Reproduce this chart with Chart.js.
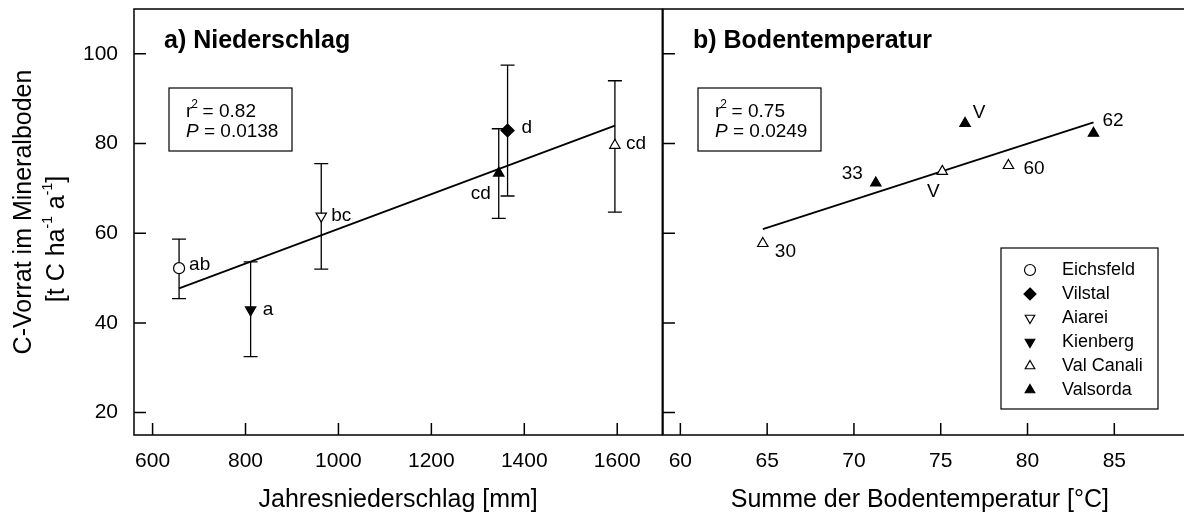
<!DOCTYPE html>
<html>
<head>
<meta charset="utf-8">
<script src="https://cdn.jsdelivr.net/npm/chart.js@4/dist/chart.umd.min.js"></script>
<style>
html, body { margin: 0; padding: 0; background: #fff; }
#wrap { position: relative; width: 1184px; height: 520px; overflow: hidden; }
canvas { position: absolute; top: 0; }
#left { left: 0; }
#right { left: 600px; }
</style>
</head>
<body>
<div id="wrap">
  <canvas id="left" width="670" height="520"></canvas>
  <canvas id="right" width="584" height="520"></canvas>
</div>
<script>
// sites in legend order
var siteNames = ['Eichsfeld', 'Vilstal', 'Aiarei', 'Kienberg', 'Val Canali', 'Valsorda'];

// a) Niederschlag: one point per site (same order as siteNames)
var precip = [657, 1364, 963, 811, 1595, 1345];
var stockA = [52.2, 82.9, 63.8, 42.9, 79.6, 73.4];
var errHiA = [58.7, 97.5, 75.5, 53.6, 94.0, 83.3];
var errLoA = [45.4, 68.3, 52.0, 32.5, 64.7, 63.3];
var lettersA = ['ab', 'd', 'bc', 'a', 'cd', 'cd'];
var fitXA = [657, 1595];
var fitYA = [47.7, 84.0];

// b) Bodentemperatur: plots of Val Canali (4) and Valsorda (5)
var siteB = [4, 5, 4, 5, 4, 5];
var tempSum = [64.75, 71.26, 75.09, 76.4, 78.9, 83.8];
var stockB = [57.7, 71.2, 73.8, 84.5, 75.1, 82.3];
var labelsB = ['30', '33', 'V', 'V', '60', '62'];
var fitXB = [64.75, 83.8];
var fitYB = [60.9, 84.7];

var yTicks = [20, 40, 60, 80, 100];
var xTicksA = [600, 800, 1000, 1200, 1400, 1600];
var xTicksB = [60, 65, 70, 75, 80, 85];

// styles
var FONT = '"Liberation Sans", Arial, Helvetica, sans-serif';
var mStyle = ['circle', 'rectRot', 'triangle', 'triangle', 'triangle', 'triangle'];
var mRot = [0, 0, 180, 180, 0, 0];
var mFill = ['#fff', '#000', '#fff', '#000', '#fff', '#000'];
var mRad = [5.5, 6.5, 6, 6, 6, 6];
// label offsets [dx, dy, align]
var labPosA = [[10, -3, 'left'], [14, -3, 'left'], [10, 0, 'left'], [12, 0, 'left'], [11, -2, 'left'], [-8, 21, 'right']];
var labPosB = [[12, 8, 'left'], [-13, -9, 'right'], [-9, 20, 'center'], [14, -11, 'center'], [15, 3, 'left'], [9, -12, 'left']];

function pts(xs, ys) {
    return xs.map(function (x, i) { return { x: x, y: ys[i] }; });
}

var markerDataset = function (xs, ys, idx) {
    return {
        type: 'scatter',
        data: pts(xs, ys),
        pointStyle: idx.map(function (k) { return mStyle[k]; }),
        rotation: idx.map(function (k) { return mRot[k]; }),
        pointRotation: idx.map(function (k) { return mRot[k]; }),
        pointRadius: idx.map(function (k) { return mRad[k]; }),
        pointBackgroundColor: idx.map(function (k) { return mFill[k]; }),
        pointBorderColor: '#000',
        pointBorderWidth: 1.2,
        order: 0
    };
};

var fitDataset = function (xs, ys) {
    return {
        type: 'line',
        data: pts(xs, ys),
        borderColor: '#000',
        borderWidth: 1.8,
        pointRadius: 0,
        fill: false,
        order: 1
    };
};

// scales: no auto padding, fixed box sizes so the plot areas line up
var noPad = function (s) { s.paddingTop = 0; s.paddingBottom = 0; s.paddingLeft = 0; s.paddingRight = 0; };

var xScale = function (min, max, ticks, title) {
    return {
        type: 'linear', min: min, max: max,
        afterBuildTicks: function (s) { s.ticks = ticks.map(function (v) { return { value: v }; }); },
        grid: { display: false, drawTicks: false },
        border: { display: false },
        ticks: { autoSkip: false, maxRotation: 0, color: '#000', padding: 14,
                 font: { family: FONT, size: 21 }, callback: function (v) { return String(v); } },
        title: { display: true, text: title, color: '#000', font: { family: FONT, size: 25 },
                 padding: { top: 0, bottom: 5 } },
        afterFit: function (s) { s.height = 85; noPad(s); }
    };
};

var yScale = function (showLabels, width) {
    return {
        type: 'linear', min: 15, max: 110,
        afterBuildTicks: function (s) { s.ticks = yTicks.map(function (v) { return { value: v }; }); },
        grid: { display: false, drawTicks: false },
        border: { display: false },
        ticks: { display: showLabels, color: '#000', padding: 16,
                 font: { family: FONT, size: 21 }, callback: function (v) { return String(v); } },
        afterFit: function (s) { s.width = width; noPad(s); }
    };
};

function drawMarker(ctx, k, x, y, r) {
    ctx.save();
    ctx.beginPath();
    if (mStyle[k] === 'circle') {
        ctx.arc(x, y, r, 0, Math.PI * 2);
    } else if (mStyle[k] === 'rectRot') {
        ctx.moveTo(x, y - r); ctx.lineTo(x + r, y); ctx.lineTo(x, y + r); ctx.lineTo(x - r, y);
    } else {
        var s = mRot[k] === 180 ? -1 : 1;
        ctx.moveTo(x, y - s * r);
        ctx.lineTo(x + r * 0.866, y + s * r / 2);
        ctx.lineTo(x - r * 0.866, y + s * r / 2);
    }
    ctx.closePath();
    ctx.fillStyle = mFill[k];
    ctx.fill();
    ctx.lineWidth = 1.2;
    ctx.strokeStyle = '#000';
    ctx.stroke();
    ctx.restore();
}

function drawFrame(chart, withRight) {
    var a = chart.chartArea, ctx = chart.ctx;
    var sx = chart.scales.x, sy = chart.scales.y;
    ctx.save();
    ctx.strokeStyle = '#000';
    ctx.lineWidth = 1.5;
    ctx.beginPath();
    if (withRight) {
        ctx.rect(a.left, a.top, a.right - a.left, a.bottom - a.top);
    } else {
        ctx.moveTo(chart.width, a.top); ctx.lineTo(a.left, a.top);
        ctx.lineTo(a.left, a.bottom); ctx.lineTo(chart.width, a.bottom);
    }
    for (let v of yTicks) {
        var py = sy.getPixelForValue(v);
        ctx.moveTo(a.left, py); ctx.lineTo(a.left + 12, py);
    }
    for (let t of sx.ticks) {
        var px = sx.getPixelForValue(t.value);
        ctx.moveTo(px, a.bottom); ctx.lineTo(px, a.bottom - 12);
    }
    ctx.stroke();
    ctx.restore();
}

function drawStats(ctx, x, y, r2, p) {
    ctx.save();
    ctx.strokeStyle = '#000';
    ctx.lineWidth = 1.2;
    ctx.strokeRect(x, y, 123, 63);
    ctx.fillStyle = '#000';
    ctx.textBaseline = 'middle';
    ctx.textAlign = 'left';
    var tx = x + 17;
    ctx.font = '19px ' + FONT;
    ctx.fillText('r', tx, y + 24);
    var w = ctx.measureText('r').width;
    ctx.font = '12px ' + FONT;
    ctx.fillText('2', tx + w - 1, y + 17);
    ctx.font = '19px ' + FONT;
    ctx.fillText(' = ' + r2, tx + w + 5, y + 24);
    ctx.font = 'italic 19px ' + FONT;
    ctx.fillText('P', tx, y + 44);
    var wp = ctx.measureText('P').width;
    ctx.font = '19px ' + FONT;
    ctx.fillText(' = ' + p, tx + wp, y + 44);
    ctx.restore();
}

function drawLabels(chart, xs, ys, texts, pos) {
    var ctx = chart.ctx, sx = chart.scales.x, sy = chart.scales.y;
    ctx.save();
    ctx.fillStyle = '#000';
    ctx.font = '19px ' + FONT;
    ctx.textBaseline = 'middle';
    texts.forEach(function (t, i) {
        ctx.textAlign = pos[i][2];
        ctx.fillText(t, sx.getPixelForValue(xs[i]) + pos[i][0], sy.getPixelForValue(ys[i]) + pos[i][1]);
    });
    ctx.restore();
}

function drawTitle(chart, text) {
    var ctx = chart.ctx, a = chart.chartArea;
    ctx.save();
    ctx.fillStyle = '#000';
    ctx.font = 'bold 25px ' + FONT;
    ctx.textBaseline = 'middle';
    ctx.textAlign = 'left';
    ctx.fillText(text, a.left + 30, 41);
    ctx.restore();
}

var leftPlugin = {
    id: 'leftPanel',
    beforeDatasetsDraw: function (chart) {
        var ctx = chart.ctx, sx = chart.scales.x, sy = chart.scales.y;
        ctx.save();
        ctx.strokeStyle = '#000';
        ctx.lineWidth = 1.3;
        ctx.beginPath();
        precip.forEach(function (v, i) {
            var px = sx.getPixelForValue(v);
            var hi = sy.getPixelForValue(errHiA[i]), lo = sy.getPixelForValue(errLoA[i]);
            ctx.moveTo(px, hi); ctx.lineTo(px, lo);
            ctx.moveTo(px - 7, hi); ctx.lineTo(px + 7, hi);
            ctx.moveTo(px - 7, lo); ctx.lineTo(px + 7, lo);
        });
        ctx.stroke();
        ctx.restore();
    },
    afterDraw: function (chart) {
        var ctx = chart.ctx, a = chart.chartArea;
        drawFrame(chart, true);
        drawLabels(chart, precip, stockA, lettersA, labPosA);
        drawTitle(chart, 'a) Niederschlag');
        drawStats(ctx, a.left + 35, a.top + 79, '0.82', '0.0138');

        // y axis title with superscripts
        ctx.save();
        ctx.fillStyle = '#000';
        ctx.textBaseline = 'middle';
        ctx.translate(24, 212);
        ctx.rotate(-Math.PI / 2);
        ctx.textAlign = 'center';
        ctx.font = '25px ' + FONT;
        ctx.fillText('C-Vorrat im Mineralboden', 0, 0);
        ctx.restore();

        var parts = [['[t C ha', 0], ['-1', 1], [' a', 0], ['-1', 1], [']', 0]];
        ctx.save();
        ctx.fillStyle = '#000';
        ctx.textBaseline = 'middle';
        ctx.textAlign = 'left';
        ctx.translate(57, 239);
        ctx.rotate(-Math.PI / 2);
        var total = 0;
        parts.forEach(function (p) {
            ctx.font = (p[1] ? '14px ' : '25px ') + FONT;
            total += ctx.measureText(p[0]).width;
        });
        var cx = -total / 2;
        parts.forEach(function (p) {
            ctx.font = (p[1] ? '14px ' : '25px ') + FONT;
            ctx.fillText(p[0], cx, p[1] ? -9 : 0);
            cx += ctx.measureText(p[0]).width;
        });
        ctx.restore();
    }
};

var rightPlugin = {
    id: 'rightPanel',
    afterDraw: function (chart) {
        var ctx = chart.ctx, a = chart.chartArea;
        drawFrame(chart, false);
        drawLabels(chart, tempSum, stockB, labelsB, labPosB);
        drawTitle(chart, 'b) Bodentemperatur');
        drawStats(ctx, a.left + 35, a.top + 79, '0.75', '0.0249');

        // legend box
        var bx = a.left + 338, by = a.top + 239;
        ctx.save();
        ctx.strokeStyle = '#000';
        ctx.lineWidth = 1.2;
        ctx.strokeRect(bx, by, 157, 161);
        ctx.fillStyle = '#000';
        ctx.font = '18px ' + FONT;
        ctx.textBaseline = 'middle';
        ctx.textAlign = 'left';
        siteNames.forEach(function (name, k) {
            var ry = by + 22 + k * 24;
            drawMarker(ctx, k, bx + 29, ry, k === 1 ? 6 : 5.5);
            ctx.fillStyle = '#000';
            ctx.fillText(name, bx + 61, ry);
        });
        ctx.restore();
    }
};

var common = {
    responsive: false,
    animation: false,
    events: [],
    plugins: { legend: { display: false }, tooltip: { enabled: false } }
};

new Chart(document.getElementById('left'), {
    type: 'scatter',
    data: {
        datasets: [
            markerDataset(precip, stockA, [0, 1, 2, 3, 4, 5]),
            fitDataset(fitXA, fitYA)
        ]
    },
    options: Object.assign({}, common, {
        layout: { padding: { top: 9, right: 7, left: 0, bottom: 0 } },
        scales: {
            x: xScale(560, 1697, xTicksA, 'Jahresniederschlag [mm]'),
            y: yScale(true, 134)
        }
    }),
    plugins: [leftPlugin]
});

new Chart(document.getElementById('right'), {
    type: 'scatter',
    data: {
        datasets: [
            markerDataset(tempSum, stockB, siteB),
            fitDataset(fitXB, fitYB)
        ]
    },
    options: Object.assign({}, common, {
        layout: { padding: { top: 9, right: 0, left: 0, bottom: 0 } },
        scales: {
            x: xScale(59, 88.6, xTicksB, 'Summe der Bodentemperatur [°C]'),
            y: yScale(false, 63)
        }
    }),
    plugins: [rightPlugin]
});
</script>
</body>
</html>
